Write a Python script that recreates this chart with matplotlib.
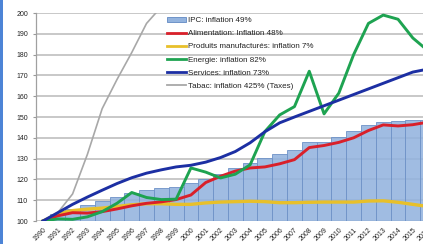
import matplotlib
matplotlib.use("Agg")
import matplotlib.pyplot as plt
from matplotlib.patches import Rectangle, Patch
from matplotlib.lines import Line2D
import numpy as np

plt.rcParams['font.family'] = ['Liberation Sans Narrow', 'Liberation Sans', 'DejaVu Sans']

years = [str(y) for y in range(1990, 2017)]

ipc = [100, 103.2, 105.7, 107.9, 109.6, 111.5, 113.7, 115.1, 115.9, 116.5, 118.4,
       120.4, 122.8, 125.3, 127.9, 130.1, 132.3, 134.3, 138.1, 138.2, 140.4,
       143.4, 146.2, 147.5, 148.3, 148.4, 148.7]
alimentation = [100, 102.5, 104, 103.8, 104.5, 105.8, 107.3, 108.5, 109.2, 110.3, 112.5,
                118.5, 121.5, 124, 125.5, 126, 127.5, 129.5, 135.3, 136.3, 137.8,
                140, 143.5, 146.2, 145.7, 146.3, 147.5]
manufactures = [100, 103.5, 105, 105.7, 106.2, 107, 107.8, 108.3, 108.3, 108, 108,
                108.7, 109.1, 109.3, 109.5, 109.3, 108.8, 108.8, 109, 109.1, 109.1,
                109.1, 109.6, 109.7, 109, 108, 107]
energie = [100, 101, 100.8, 102, 104.5, 108.5, 113.7, 111.3, 110.3, 110.5, 125.5,
           123.5, 120.7, 122.5, 127, 143, 151, 155, 172, 151.5, 161.5,
           180, 195, 199, 197, 188, 182]
services = [100, 104, 108, 111.5, 114.8, 118, 120.8, 123, 124.6, 126, 126.8,
            128.3, 130.5, 133.4, 137.6, 142.9, 147.2, 150, 152.7, 155.4, 158.1,
            160.8, 163.5, 166.2, 168.9, 171.6, 173]
tabac = [100, 104, 113, 132, 154, 168, 181, 195, 203, 220, 232,
         242, 255, 290, 330, 340, 350, 360, 372, 385, 400,
         420, 450, 480, 500, 515, 525]

labels = ["IPC: inflation 49%", "Alimentation: Inflation 48%",
          "Produits manufacturés: inflation 7%", "Energie: inflation 82%",
          "Services: inflation 73%", "Tabac: inflation 425% (Taxes)"]

W, H = 423, 244
fig = plt.figure(figsize=(W / 100, H / 100), dpi=100)
fig.patch.set_facecolor('white')

ax = fig.add_axes([35.6 / W, 23 / H, (435 - 35.6) / W, (231 - 23) / H])
x = np.arange(len(years))

ax.set_axisbelow(True)
ax.yaxis.grid(True, color='#c4c4c4', lw=1.3)
bar_c = '#93b3de'
ax.bar(x, ipc, width=1.0, color=bar_c, edgecolor='#6f93c8', linewidth=0.7, alpha=0.88, zorder=2)

ax.plot(x, tabac, color='#a8a8a8', lw=1.2, zorder=3)
ax.plot(x, manufactures, color='#e8c02a', lw=2.4, zorder=4)
ax.plot(x, alimentation, color='#d9202a', lw=2.1, zorder=5)
ax.plot(x, energie, color='#1ea351', lw=2.1, zorder=6)
ax.plot(x, services, color='#1c2fa3', lw=2.1, zorder=7)

ax.set_ylim(100, 200)
ax.set_xlim(-0.5, len(years) - 0.5)
ax.set_yticks(range(100, 201, 10))
ax.set_xticks(x)
ax.set_xticklabels(years, rotation=45, ha='right', va='top', rotation_mode='anchor',
                   fontsize=5, color='#222222')
ax.tick_params(axis='y', labelsize=5, labelcolor='#222222', length=2.5, width=0.8, pad=3,
               color='#999999')
ax.tick_params(axis='x', length=0, pad=4)
for s in ['top', 'right', 'bottom']:
    ax.spines[s].set_visible(False)
ax.spines['left'].set_color('#a0a0a0')
ax.spines['left'].set_linewidth(0.9)

handles = [Patch(facecolor=bar_c, edgecolor='#6f93c8', lw=0.7),
           Line2D([], [], color='#d9202a', lw=2.0),
           Line2D([], [], color='#e8c02a', lw=2.0),
           Line2D([], [], color='#1ea351', lw=2.0),
           Line2D([], [], color='#1c2fa3', lw=2.0),
           Line2D([], [], color='#a8a8a8', lw=1.3)]
leg = fig.legend(handles, labels, loc='upper left',
                 bbox_to_anchor=(167 / W, 1 - 17 / H), bbox_transform=fig.transFigure,
                 frameon=False, fontsize=5.8, labelspacing=0.7, handlelength=2.4,
                 handleheight=0.6, handletextpad=0.25, borderpad=0, borderaxespad=0)
for t in leg.get_texts():
    t.set_color('#222222')

fig.add_artist(Rectangle((0, 0), 3.3 / W, 1, transform=fig.transFigure,
                         facecolor='#4d84d6', edgecolor='none'))

fig.savefig('out.png', dpi=100)
